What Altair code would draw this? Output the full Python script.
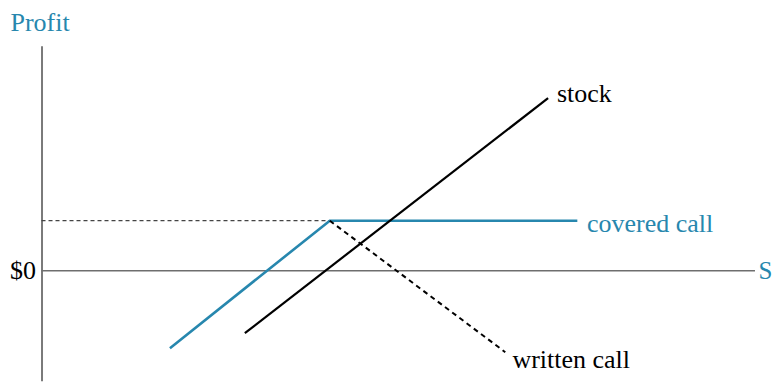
import altair as alt
import pandas as pd

BLUE = "#2787ae"
FONT = "Liberation Serif"

# payoff lines (x = stock price units, y = profit units)
stock_x = [28.5, 71.0]
stock_y = [-12.5, 34.5]

covered_x = [18.0, 40.4, 75.1]
covered_y = [-15.5, 10.0, 10.0]

written_x = [40.4, 65.0]
written_y = [10.0, -16.3]

premium_x = [0.0, 40.4]
premium_y = [10.0, 10.0]

zero_x = [0.0, 100.0]
zero_y = [0.0, 0.0]

label_text = ["stock", "covered call", "written call"]
label_x = [72.25, 76.45, 66.0]
label_y = [33.7, 7.8, -19.5]
label_color = ["black", BLUE, "black"]

xs = alt.Scale(domain=[0, 100])
ys = alt.Scale(domain=[-22, 45])


def line_df(xv, yv):
    return pd.DataFrame({"x": xv, "y": yv, "o": list(range(len(xv)))})


yaxis = alt.Axis(
    values=[0], labelExpr="'$0'", ticks=False, grid=False,
    domainColor="#7a7a7a", domainWidth=2,
    labelFont=FONT, labelFontSize=26, labelColor="black", labelPadding=6,
    title="Profit", titleFont=FONT, titleFontSize=26, titleFontWeight="normal",
    titleColor=BLUE, titleAngle=0, titleAlign="left", titleBaseline="alphabetic",
    titleX=-31.5, titleY=-14.7,
)

zero = alt.Chart(line_df(zero_x, zero_y)).mark_line(color="#6e6e6e", strokeWidth=1.5).encode(
    x=alt.X("x:Q", scale=xs, axis=None),
    y=alt.Y("y:Q", scale=ys, axis=yaxis),
    order="o:O",
)

premium = alt.Chart(line_df(premium_x, premium_y)).mark_line(
    color="#444444", strokeWidth=1.2, strokeDash=[4, 3]
).encode(x=alt.X("x:Q", scale=xs), y=alt.Y("y:Q", scale=ys), order="o:O")

written = alt.Chart(line_df(written_x, written_y)).mark_line(
    color="black", strokeWidth=2, strokeDash=[5, 4]
).encode(x=alt.X("x:Q", scale=xs), y=alt.Y("y:Q", scale=ys), order="o:O")

stock = alt.Chart(line_df(stock_x, stock_y)).mark_line(color="black", strokeWidth=2.2).encode(
    x=alt.X("x:Q", scale=xs), y=alt.Y("y:Q", scale=ys), order="o:O"
)

covered = alt.Chart(line_df(covered_x, covered_y)).mark_line(color=BLUE, strokeWidth=2.6).encode(
    x=alt.X("x:Q", scale=xs), y=alt.Y("y:Q", scale=ys), order="o:O"
)

labels = alt.Chart(
    pd.DataFrame({"t": label_text, "x": label_x, "y": label_y, "c": label_color})
).mark_text(align="left", baseline="alphabetic", font=FONT, fontSize=26).encode(
    x=alt.X("x:Q", scale=xs), y=alt.Y("y:Q", scale=ys), text="t:N",
    color=alt.Color("c:N", scale=None),
)

s_label = alt.Chart(pd.DataFrame({"t": ["S"], "x": [100.5], "y": [0.0]})).mark_text(
    align="left", baseline="middle", font=FONT, fontSize=25, color=BLUE
).encode(x=alt.X("x:Q", scale=xs), y=alt.Y("y:Q", scale=ys), text="t:N")

chart = (
    alt.layer(zero, premium, covered, stock, written, labels, s_label)
    .properties(
        width=713.5, height=335,
        padding={"left": 33.5, "top": 37.7, "right": 16.5, "bottom": 2},
        autosize=alt.AutoSizeParams(type="none"),
    )
    .configure_view(stroke=None)
)

chart.save("out.html", embed_options={"renderer": "svg", "actions": False})
